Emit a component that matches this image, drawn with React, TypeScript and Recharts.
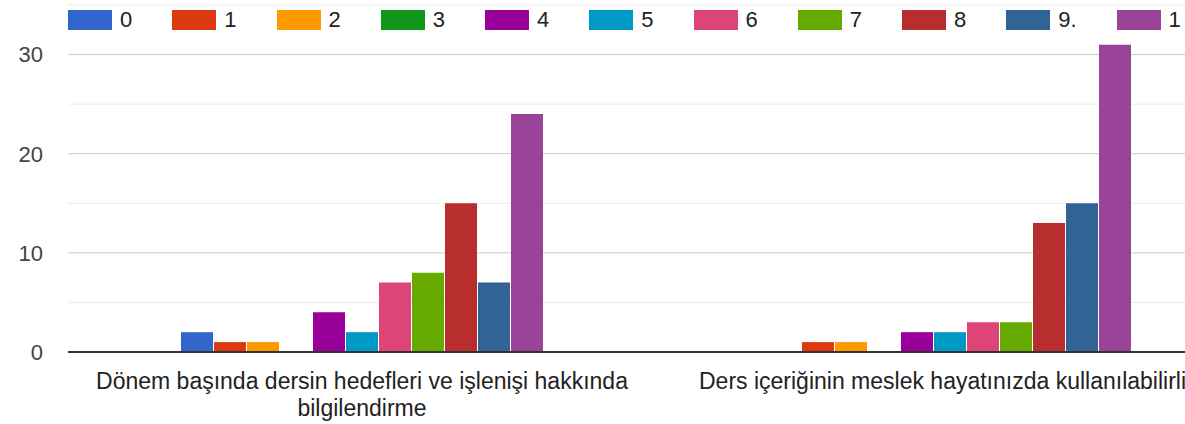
import React from "react";
import { BarChart, Bar, XAxis, YAxis, CartesianGrid, ReferenceLine, Legend } from "recharts";

const categories = [
  "Dönem başında dersin hedefleri ve işlenişi hakkında bilgilendirme",
  "Ders içeriğinin meslek hayatınızda kullanılabilirliği",
];
// tick text as shown in the reference (second label is cut off by the frame)
const categoryLines = [
  ["Dönem başında dersin hedefleri ve işlenişi hakkında", "bilgilendirme"],
  ["Ders içeriğinin meslek hayatınızda kullanılabilirli"],
];
const seriesNames = ["0", "1", "2", "3", "4", "5", "6", "7", "8", "9.", "1"];
const seriesColors = [
  "#3366cc", "#dc3912", "#ff9900", "#109618", "#990099", "#0099c6",
  "#dd4477", "#66aa00", "#b82e2e", "#316395", "#994499",
];
const group1Values = [2, 1, 1, 0, 4, 2, 7, 8, 15, 7, 24];
const group2Values = [0, 1, 1, 0, 2, 2, 3, 3, 13, 15, 31];
const yDomain = [0, 35];
const majorTicks = [0, 10, 20, 30];
const minorTicks = [5, 15, 25, 35];

const groupValues = [group1Values, group2Values];
const data = categories.map((name, ci) => {
  const row: Record<string, any> = { name, idx: ci };
  seriesNames.forEach((_, si) => {
    row["s" + si] = groupValues[ci][si];
  });
  return row;
});

const FONT = "'Liberation Sans', Arial, sans-serif";

const valueToY = (v: number, offset: any) =>
  offset.top + offset.height * (1 - (v - yDomain[0]) / (yDomain[1] - yDomain[0]));

const XTick = (props: any) => {
  const { x, y, payload } = props;
  const idx = payload.index;
  const lines = categoryLines[idx] || [String(payload.value)];
  const truncated = idx === 1;
  const tx = truncated ? x - 251 : x;
  return (
    <text
      x={tx}
      y={y}
      textAnchor={truncated ? "start" : "middle"}
      fontSize={23}
      fill="#222"
      fontFamily={FONT}
    >
      {lines.map((l, i) => (
        <tspan key={i} x={tx} dy={i === 0 ? 35 : 27}>
          {l}
        </tspan>
      ))}
    </text>
  );
};

const LegendContent = () => (
  <div style={{ display: "flex", flexDirection: "row", whiteSpace: "nowrap", fontFamily: FONT }}>
    {seriesNames.map((n, i) => (
      <div key={i} style={{ display: "flex", alignItems: "center", marginRight: 40 }}>
        <div style={{ width: 44, height: 20, background: seriesColors[i] }} />
        <span style={{ marginLeft: 8, fontSize: 22, lineHeight: "20px", color: "#222" }}>{n}</span>
      </div>
    ))}
  </div>
);

export default function App() {
  return (
    <div
      style={{
        position: "absolute",
        left: 0,
        top: 0,
        width: 1185,
        height: 424,
        overflow: "hidden",
        background: "#fff",
      }}
    >
      <BarChart
        width={1250}
        height={424}
        data={data}
        margin={{ top: 5, right: 6, bottom: 0, left: 0 }}
        barCategoryGap={113}
        barGap={1}
      >
        <CartesianGrid
          vertical={false}
          stroke="#ebebeb"
          strokeWidth={1}
          horizontalCoordinatesGenerator={({ offset }: any) => minorTicks.map((v) => valueToY(v, offset))}
        />
        <CartesianGrid
          vertical={false}
          stroke="#cccccc"
          strokeWidth={1}
          horizontalCoordinatesGenerator={({ offset }: any) => majorTicks.map((v) => valueToY(v, offset))}
        />
        <XAxis
          dataKey="name"
          axisLine={false}
          tickLine={false}
          tickSize={0}
          height={72}
          interval={0}
          tick={<XTick />}
        />
        <YAxis
          domain={yDomain}
          ticks={majorTicks}
          width={68}
          axisLine={false}
          tickLine={false}
          tickSize={0}
          tickMargin={25}
          tick={{ fontSize: 22, fill: "#444", fontFamily: FONT }}
        />
        <Legend
          verticalAlign="middle"
          layout="horizontal"
          content={<LegendContent />}
          wrapperStyle={{ top: 10, left: 68, width: "auto" }}
        />
        {seriesNames.map((n, i) => (
          <Bar key={i} dataKey={"s" + i} name={n} fill={seriesColors[i]} isAnimationActive={false} />
        ))}
        <ReferenceLine y={0} stroke="#333" strokeWidth={2} />
      </BarChart>
    </div>
  );
}
